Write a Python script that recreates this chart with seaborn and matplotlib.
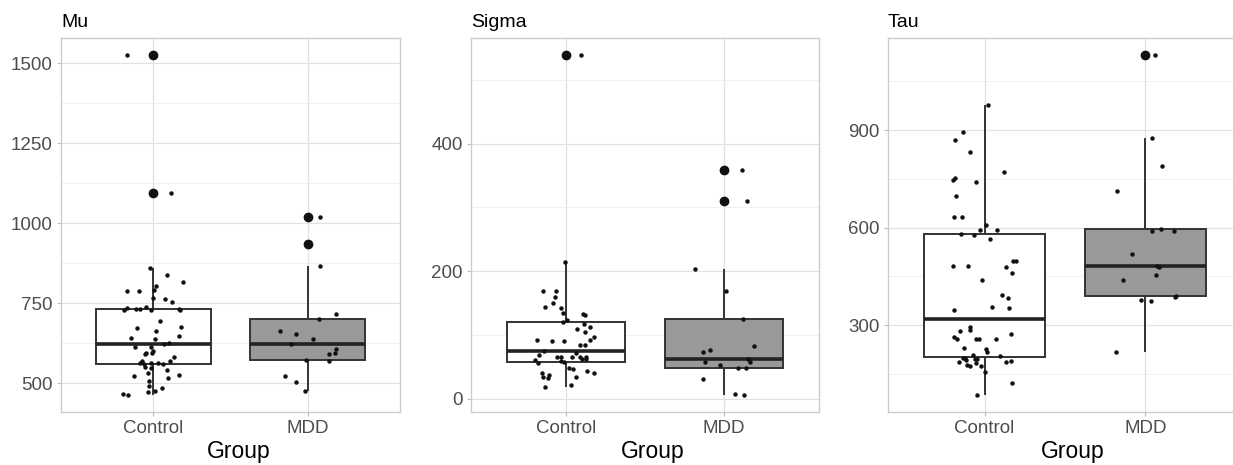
import numpy as np
import pandas as pd
import matplotlib
matplotlib.use("Agg")
import matplotlib.pyplot as plt
from matplotlib.ticker import MultipleLocator
import seaborn as sns

# values
groups = ["Control", "MDD"]

mu_control = [1525, 1095, 860, 837, 816, 804, 792, 787, 787, 766, 764, 754, 738, 735, 733,
              731, 731, 728, 728, 727, 693, 675, 671, 664, 646, 641, 637, 624, 623, 612,
              612, 600, 593, 593, 590, 581, 569, 569, 564, 564, 564, 560, 560, 550, 548,
              540, 531, 525, 521, 517, 508, 490, 486, 477, 471, 467, 463]
mu_mdd = [1019, 935, 866, 715, 700, 662, 655, 638, 621, 608, 595, 590, 571, 568, 522, 503, 476]

sigma_control = [539, 214, 169, 169, 159, 150, 144, 142, 134, 133, 131, 123, 120, 117, 112,
                 110, 104, 97, 93, 92, 91, 91, 85, 85, 75, 72, 68, 66, 66, 65, 65, 65, 63,
                 63, 61, 60, 57, 56, 49, 47, 44, 40, 40, 37, 35, 34, 33, 22, 18]
sigma_mdd = [359, 310, 204, 169, 125, 83, 77, 74, 62, 58, 57, 53, 49, 48, 31, 7, 6]

tau_control = [978, 895, 871, 832, 770, 753, 747, 741, 696, 634, 634, 607, 594, 594, 581,
               577, 564, 498, 497, 481, 481, 479, 459, 438, 394, 382, 355, 353, 346, 293,
               285, 283, 272, 262, 258, 258, 258, 256, 229, 227, 218, 208, 206, 200, 200,
               197, 196, 192, 190, 187, 187, 182, 177, 174, 174, 157, 121, 85]
tau_mdd = [1131, 875, 788, 713, 597, 591, 591, 520, 481, 480, 454, 438, 389, 385, 378, 375, 216]

titles = ["Mu", "Sigma", "Tau"]
major_steps = [250, 200, 300]

sns.set_theme(style="whitegrid")
plt.rcParams["font.family"] = ["Liberation Sans", "DejaVu Sans"]

W, H = 1233, 465
fig = plt.figure(figsize=(W / 100, H / 100), dpi=100)

# panel rectangles in pixels: left, width (the last one runs past the edge)
rects = [(61, 339), (471, 348), (888, 354)]
top_px, bot_px = 38, 412

panels = [(mu_control, mu_mdd), (sigma_control, sigma_mdd), (tau_control, tau_mdd)]

np.random.seed(7)

for (ctrl, mdd), title, step, (lx, wx) in zip(panels, titles, major_steps, rects):
    ax = fig.add_axes([lx / W, (H - bot_px) / H, wx / W, (bot_px - top_px) / H])
    df = pd.DataFrame({
        "Group": ["Control"] * len(ctrl) + ["MDD"] * len(mdd),
        "value": ctrl + mdd,
    })

    sns.boxplot(data=df, x="Group", y="value", hue="Group", order=groups,
                palette={"Control": "white", "MDD": "#999999"}, saturation=1,
                width=0.75, linewidth=1.4, linecolor="#333333", legend=False,
                showcaps=False,
                medianprops=dict(linewidth=2.6, color="#222222"),
                flierprops=dict(marker="o", markersize=6, markerfacecolor="#111111",
                                markeredgecolor="#111111"),
                ax=ax, zorder=2)
    sns.stripplot(data=df, x="Group", y="value", order=groups, color="#111111",
                  size=3.2, jitter=0.2, ax=ax, zorder=3)

    # ggplot-like expansion of the y range
    vmin, vmax = df["value"].min(), df["value"].max()
    pad = 0.05 * (vmax - vmin)
    ax.set_ylim(vmin - pad, vmax + pad)
    ax.set_xlim(-0.6, 1.6)

    ax.yaxis.set_major_locator(MultipleLocator(step))
    ax.yaxis.set_minor_locator(MultipleLocator(step / 2))
    ax.set_axisbelow(True)
    ax.grid(True, which="major", color="#e1e1e1", linewidth=0.9)
    ax.grid(True, which="minor", axis="y", color="#eeeeee", linewidth=0.6)
    ax.xaxis.grid(True, which="major", color="#e1e1e1", linewidth=0.9)

    for sp in ax.spines.values():
        sp.set_visible(True)
        sp.set_color("#cccccc")
        sp.set_linewidth(1.0)

    ax.tick_params(axis="both", which="major", length=3, width=0.8, color="#bbbbbb",
                   labelcolor="#4d4d4d", labelsize=13.5, pad=3)
    ax.tick_params(axis="y", which="minor", length=0)
    ax.tick_params(bottom=True, left=True)

    ax.set_ylabel("")
    ax.set_xlabel("Group", fontsize=16.5, color="black")
    ax.xaxis.set_label_coords(0.523, -0.075)
    ax.set_title(title, loc="left", fontsize=14, color="black", pad=8)

fig.savefig("out.png", dpi=100)
